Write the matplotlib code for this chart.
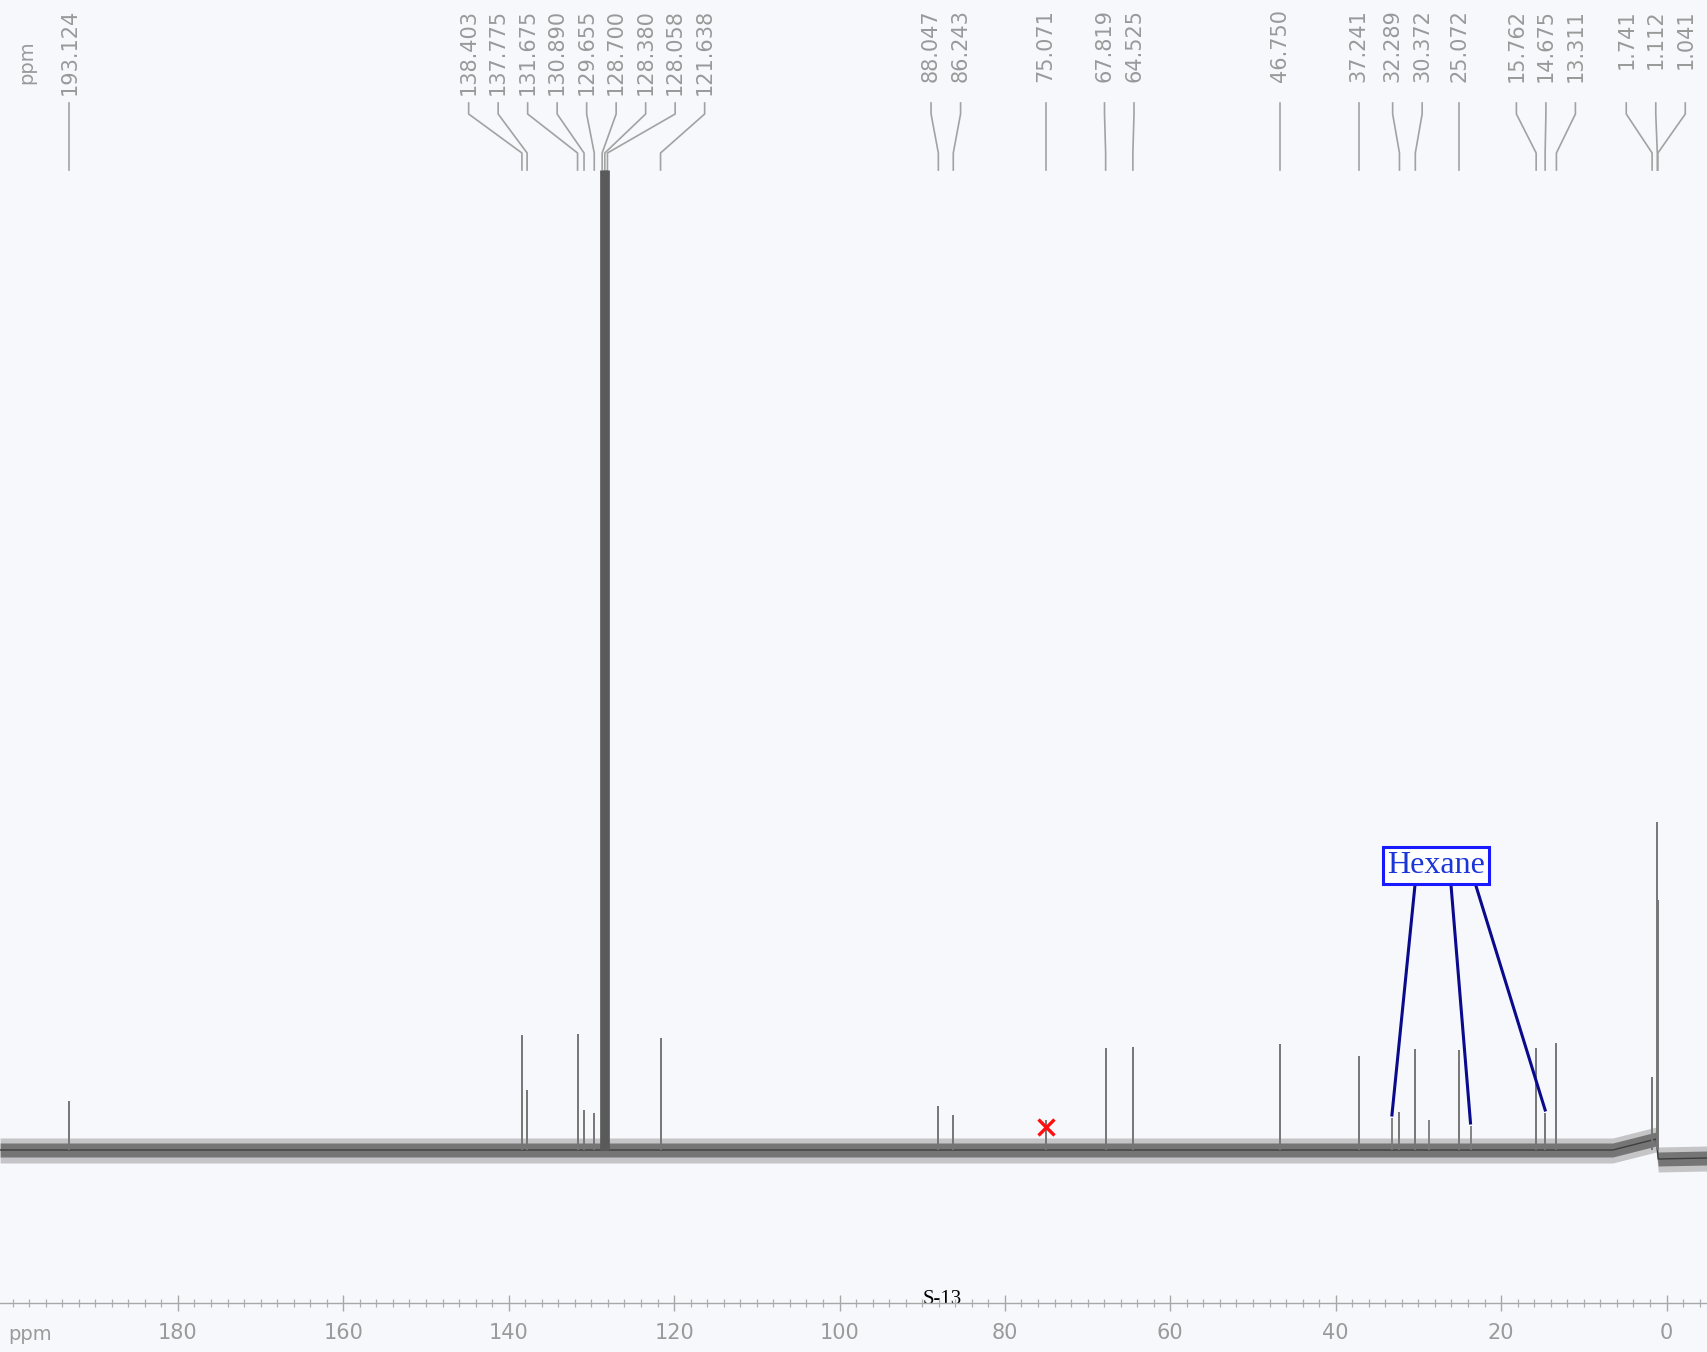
import matplotlib
matplotlib.use("Agg")
import matplotlib.pyplot as plt
from matplotlib.ticker import MultipleLocator, FixedLocator
import numpy as np

# ---------------- data ----------------
label_ppm = [193.124, 138.403, 137.775, 131.675, 130.890, 129.655, 128.700, 128.380,
             128.058, 121.638, 88.047, 86.243, 75.071, 67.819, 64.525, 46.750,
             37.241, 32.289, 30.372, 25.072, 15.762, 14.675, 13.311, 1.741, 1.112, 1.041]
label_height = [49, 115, 60, 116, 40, 37, 980, 980,
                980, 112, 44, 35, 30, 102, 103, 106,
                94, 38, 101, 100, 102, 37, 107, 73, 328, 250]
extra_ppm = [33.2, 28.7, 23.7]          # small unlabelled lines (hexane etc.)
extra_height = [32, 30, 24]
hexane_ppm = [33.2, 23.7, 14.675]
hexane_height = [32, 24, 37]
baseline_ppm = [201.5, 6.5, 1.25, 1.0, -4.9]
baseline_level = [0, 0, 11, -9, -8]
tick_values = [180, 160, 140, 120, 100, 80, 60, 40, 20, 0]
artifact_ppm = 75.071
artifact_level = 23

# ---------------- layout ----------------
W, H, DPI = 1707, 1352, 100
X0, S = 1666.5, 8.27          # pixel of 0 ppm, pixels per ppm
BASE = 1150                   # pixel row of baseline


def ppm_of(px):
    return (X0 - px) / S


def yd(py):
    return BASE - py


fig = plt.figure(figsize=(W / DPI, H / DPI), dpi=DPI)
fig.patch.set_facecolor("#f7f8fc")
ax = fig.add_axes([0, 0, 1, 1])
ax.set_xlim(ppm_of(0), ppm_of(W))
ax.set_ylim(yd(H), yd(0))
ax.axis("off")

# baseline noise band
bp = np.array(baseline_ppm)
bl = np.array(baseline_level)
ax.fill_between(bp, bl - 13, bl + 12, color="#7a7a7a", alpha=0.40, lw=0, zorder=1)
ax.fill_between(bp, bl - 7, bl + 7, color="#4a4a4a", alpha=0.65, lw=0, zorder=1)
ax.plot(bp, bl, color="#3e3e3e", lw=1.0, zorder=2)

# peaks
big = [i for i, h in enumerate(label_height) if h > 500]
small = [i for i in range(len(label_ppm)) if i not in big]
ax.vlines([label_ppm[i] for i in small], 0, [label_height[i] for i in small],
          color="#767676", lw=1.4, zorder=3)
ax.vlines([label_ppm[i] for i in big], 0, [label_height[i] for i in big],
          color="#5a5a5a", lw=3.4, zorder=3)
ax.vlines(extra_ppm, 0, extra_height, color="#7a7a7a", lw=1.3, zorder=3)

# peak labels with spread-out positions
pxs = X0 - np.array(label_ppm) * S
SP = 29.5
groups = [[i] for i in range(len(pxs))]


def spread(g):
    c = np.mean(pxs[g])
    return [c + (k - (len(g) - 1) / 2) * SP for k in range(len(g))]


changed = True
while changed:
    changed = False
    for j in range(len(groups) - 1):
        a, b = spread(groups[j]), spread(groups[j + 1])
        if a[-1] + SP > b[0]:
            groups[j] = groups[j] + groups[j + 1]
            del groups[j + 1]
            changed = True
            break

lab_col = "#999999"
for g in groups:
    for i, lpx in zip(g, spread(g)):
        lx = ppm_of(lpx)
        ax.text(lx, yd(9), f"{label_ppm[i]:.3f}", rotation=90, ha="center", va="top",
                fontsize=15, color=lab_col)
        ax.plot([lx, lx, label_ppm[i], label_ppm[i]],
                [yd(103), yd(114), yd(153), yd(170)], color="#a2a2a2", lw=1.2)

ax.text(ppm_of(27), yd(62), "ppm", rotation=90, ha="center", va="center",
        fontsize=14, color=lab_col)

# Hexane annotation
hx, hy = ppm_of(1436), yd(865.5)
ax.text(hx, hy, "Hexane", ha="center", va="center", fontsize=23,
        family=["Liberation Serif", "DejaVu Serif"], color="#1a35d8",
        bbox=dict(boxstyle="square,pad=0.12", fc="white", ec="#1a1aff", lw=2.2),
        zorder=6)
starts = [ppm_of(1415), ppm_of(1451), ppm_of(1475.7)]
for sx, p, h in zip(starts, hexane_ppm, hexane_height):
    ax.plot([sx, p], [yd(885), h + 3], color="#0a0a8c", lw=2.2, zorder=5)

# red cross on artefact
ax.plot([artifact_ppm], [artifact_level], marker="x", ms=12, mew=2.4,
        color="#ff1010", zorder=6)

# S-13 page mark
ax.text(ppm_of(942), yd(1299), "S-13", ha="center", va="center", fontsize=15,
        family=["Liberation Serif", "DejaVu Serif"], color="black", zorder=6)

# ppm scale
sax = fig.add_axes([0, (H - 1303) / H, 1, 0.0001])
sax.set_xlim(ppm_of(0), ppm_of(W))
sax.patch.set_alpha(0)
for s in ["top", "left", "right"]:
    sax.spines[s].set_visible(False)
sax.spines["bottom"].set_color("#a8a8a8")
sax.spines["bottom"].set_linewidth(1.0)
sax.set_yticks([])
sax.xaxis.set_major_locator(FixedLocator(tick_values))
sax.xaxis.set_minor_locator(MultipleLocator(2))
sax.set_xticklabels([str(v) for v in tick_values])
sax.tick_params(axis="x", which="major", direction="inout", length=11, width=1.0,
                color="#a8a8a8", labelcolor="#9a9a9a", labelsize=15, pad=9)
sax.tick_params(axis="x", which="minor", direction="inout", length=6, width=0.9,
                color="#b0b0b0")
ax.text(ppm_of(30), yd(1335), "ppm", ha="center", va="center", fontsize=14,
        color="#9a9a9a")

fig.savefig("out.png", dpi=DPI, facecolor=fig.get_facecolor())
